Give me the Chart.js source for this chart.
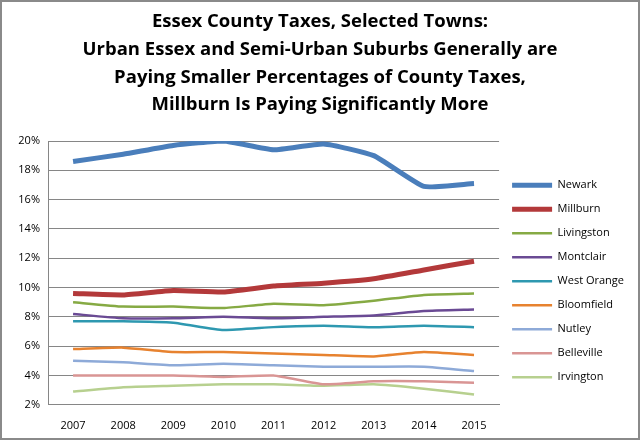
<!DOCTYPE html>
<html>
<head>
<meta charset="utf-8">
<script src="https://cdn.jsdelivr.net/npm/chart.js@4"></script>
<style>
  html, body { margin: 0; padding: 0; background: #fff; }
  #wrap { position: relative; width: 636px; height: 436px; border: 2px solid #8a8a8a; }
</style>
</head>
<body>
<div id="wrap"><canvas id="c"></canvas></div>
<script>
const years = ['2007', '2008', '2009', '2010', '2011', '2012', '2013', '2014', '2015'];

const newark = [18.6, 19.1, 19.7, 20.0, 19.4, 19.8, 19.0, 16.9, 17.1];
const millburn = [9.6, 9.5, 9.8, 9.7, 10.1, 10.3, 10.6, 11.2, 11.8];
const livingston = [9.0, 8.7, 8.7, 8.6, 8.9, 8.8, 9.1, 9.5, 9.6];
const montclair = [8.2, 7.9, 7.9, 8.0, 7.9, 8.0, 8.1, 8.4, 8.5];
const westOrange = [7.7, 7.7, 7.6, 7.1, 7.3, 7.4, 7.3, 7.4, 7.3];
const bloomfield = [5.8, 5.9, 5.6, 5.6, 5.5, 5.4, 5.3, 5.6, 5.4];
const nutley = [5.0, 4.9, 4.7, 4.8, 4.7, 4.6, 4.6, 4.6, 4.3];
const belleville = [4.0, 4.0, 4.0, 3.9, 4.0, 3.4, 3.6, 3.6, 3.5];
const irvington = [2.9, 3.2, 3.3, 3.4, 3.4, 3.3, 3.4, 3.1, 2.7];

const titleLines = [
  'Essex County Taxes, Selected Towns:',
  'Urban Essex and Semi-Urban Suburbs Generally are',
  'Paying Smaller Percentages of County Taxes,',
  'Millburn Is Paying Significantly More',
];

function series(label, data, color, width) {
  return {
    label, data,
    borderColor: color, backgroundColor: color,
    borderWidth: width, pointRadius: 0, tension: 0.15,
  };
}

new Chart(document.getElementById('c'), {
  type: 'line',
  data: {
    labels: years,
    datasets: [
      series('Newark', newark, '#4a7ebb', 5),
      series('Millburn', millburn, '#b3393a', 5),
      series('Livingston', livingston, '#86aa44', 2.5),
      series('Montclair', montclair, '#6a4a94', 2.5),
      series('West Orange', westOrange, '#2e98b0', 2.5),
      series('Bloomfield', bloomfield, '#e7822f', 2.5),
      series('Nutley', nutley, '#8eaad8', 2.5),
      series('Belleville', belleville, '#d99594', 2.5),
      series('Irvington', irvington, '#b7d08f', 2.5),
    ],
  },
  options: {
    responsive: true,
    maintainAspectRatio: false,
    animation: false,
    layout: { padding: { left: 4, right: 4, bottom: 0, top: 0 } },
    plugins: {
      title: {
        display: true,
        text: titleLines,
        color: '#000',
        font: { family: 'Open Sans', size: 18.5, weight: 'bold', lineHeight: 1.5 },
        padding: { top: 6, bottom: 22 },
      },
      legend: {
        position: 'right',
        // blank legend title just pushes the entries down to line up with the plot
        title: { display: true, text: ' ', padding: 54 },
        labels: {
          usePointStyle: true,
          pointStyle: 'line',
          pointStyleWidth: 40,
          padding: 13,
          color: '#000',
          font: { family: 'Open Sans', size: 11 },
        },
      },
      tooltip: { enabled: false },
    },
    scales: {
      x: {
        offset: true,
        grid: { display: false },
        border: { color: '#868686' },
        ticks: { color: '#000', font: { family: 'Open Sans', size: 11 }, padding: 6 },
      },
      y: {
        min: 2, max: 20,
        afterFit: (s) => { s.width = 42; },
        grid: { color: '#868686', drawTicks: false },
        border: { color: '#868686' },
        ticks: {
          stepSize: 2, padding: 8, color: '#000',
          font: { family: 'Open Sans', size: 11 },
          callback: (v) => v + '%',
        },
      },
    },
  },
});
</script>
</body>
</html>
